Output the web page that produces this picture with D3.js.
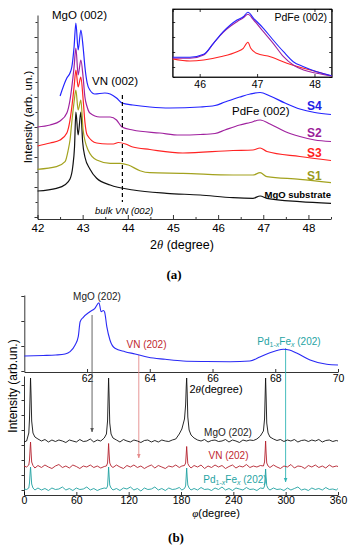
<!DOCTYPE html>
<html lang="en">
<head>
<meta charset="UTF-8">
<title>XRD scans</title>
<style>
    body { margin: 0; background: #fff; }
    svg { display: block; }
    svg text { font-family: Arial, "Liberation Sans", Helvetica, sans-serif; }
    .axis path, .axis line { stroke: #000; stroke-width: 0.8; }
    .axA text { font-size: 11.5px; fill: #000; }
    .axIn text { font-size: 10.5px; fill: #000; }
    .axB text { font-size: 10.5px; fill: #000; }
</style>
</head>
<body>
<script src="https://cdn.jsdelivr.net/npm/d3@7"></script>
<script>
// ---------- panel (a): 2theta scans, [2theta, intensity] ----------
var s4 = [[42.50,121],[42.65,139],[42.72,144],[42.76,150],[42.81,170],[42.85,194],[42.90,167],[42.96,187],[43.01,170],[43.05,150],[43.10,134],[43.16,127],[43.27,123],[43.49,124],[43.61,123],[43.75,119],[43.87,114],[44.11,112],[44.49,110],[44.93,109],[45.60,110],[45.93,111.5],[46.15,115],[46.48,120],[46.71,123],[46.93,124.5],[47.15,121],[47.48,114],[47.81,108],[48.14,104.5],[48.5,102.5]];
var s2 = [[42.0,90],[42.28,92],[42.50,96],[42.65,104],[42.72,117],[42.76,130],[42.81,150],[42.85,169],[42.90,142],[42.96,157],[43.01,140],[43.05,120],[43.10,110],[43.16,104],[43.38,100],[43.61,100],[43.75,97],[43.87,90],[44.11,87],[44.71,84],[45.15,82],[45.6,82.5],[45.93,83.5],[46.15,87],[46.48,92],[46.71,94.5],[46.93,97],[47.15,93],[47.48,85.5],[47.81,80.5],[48.14,77],[48.5,75.5]];
var s3 = [[42.0,71],[42.28,74],[42.5,77],[42.65,84],[42.72,97],[42.76,110],[42.81,130],[42.85,147],[42.90,130],[42.96,140],[43.01,118],[43.05,95],[43.10,82],[43.31,74],[43.55,73],[43.68,73],[43.79,74.5],[43.95,73],[44.11,70],[44.49,67.5],[45.22,64],[46.33,66.5],[46.77,67],[46.93,69],[47.08,65.5],[47.81,60.5],[48.5,56.5]];
var s1 = [[42.0,47.7],[42.42,50.3],[42.61,55.3],[42.68,67],[42.72,77],[42.76,95],[42.81,115],[42.85,127],[42.90,107],[42.96,117],[43.01,87],[43.12,67],[43.31,57],[43.61,53.7],[43.83,53.7],[44.01,52],[44.27,46.3],[44.49,44.3],[45.22,43.7],[46.33,42],[46.77,42],[46.93,44.3],[47.08,40.3],[47.81,37.7],[48.5,34.3]];
var substrate = [[42.0,26],[42.42,28.7],[42.6,32],[42.72,38],[42.78,50],[42.82,70],[42.85,105],[42.90,82],[42.96,105],[43.0,75],[43.05,60],[43.16,48],[43.31,38.7],[43.61,32],[44.12,27],[44.86,23.7],[45.6,22],[46.33,19.3],[46.77,18.7],[46.93,21],[47.08,18.7],[47.81,15.3],[48.5,13.7]];
var ticksA = [42, 43, 44, 45, 46, 47, 48];
var bulkVN = 43.88;

// inset, PdFe (002) region
var inS4 = [[45.53,19.7],[45.83,19.7],[46.07,22.7],[46.24,33.7],[46.41,45.3],[46.65,57],[46.76,60.3],[46.84,64.7],[46.94,58.7],[47.11,48.7],[47.28,37],[47.46,25.3],[47.63,15.3],[47.81,10.3],[48.04,5.3],[48.3,1.3]];
var inS2 = [[45.53,18.7],[45.83,18.7],[46.07,22],[46.24,33.7],[46.41,44.7],[46.65,55.3],[46.76,59.3],[46.84,62.7],[46.94,57],[47.11,45.3],[47.28,33.7],[47.46,20.3],[47.63,12],[47.81,7],[48.04,3.7],[48.3,1]];
var inS3 = [[45.53,18],[45.83,16],[46.07,17],[46.36,20.3],[46.65,25.3],[46.76,28.7],[46.84,34.7],[46.89,28.7],[46.99,23.7],[47.23,20.3],[47.52,13.7],[47.81,8.7],[48.04,5.3],[48.3,1]];
var ticksInset = [46, 47, 48];

// ---------- panel (b): upper 2theta scan ----------
var scan2t = [[60.0,16],[60.6,16.5],[61.0,17],[61.3,18],[61.46,20.3],[61.62,27],[61.72,35.3],[61.78,50.3],[61.88,54.7],[62.09,60.3],[62.25,63.7],[62.38,69.3],[62.45,60.3],[62.52,61.5],[62.56,60],[62.63,45.3],[62.73,32],[62.89,23.7],[63.21,20.3],[63.53,18],[63.95,14.7],[64.49,12.7],[65.06,11],[65.8,10.5],[66.56,10.3],[67.19,11],[67.51,15],[67.83,19.3],[68.05,21.5],[68.26,22.7],[68.45,22],[68.68,19],[69.11,12],[69.64,7.7],[70,7]];
var ticks2t = [62, 64, 66, 68, 70];
var refPeaks = [62.16, 63.65, 68.33];   // MgO, VN, PdFe (202)

// ---------- panel (b): phi scans ----------
var phi = [0,3,5.5,6.3,7,7.5,8.1,8.8,10.3,12.5,
    16,20,24,28,32,36,40,44,48,52,56,60,64,68,72,76,80,84,88,92,
    94.5,95.8,96.5,97,97.6,98.3,99.8,
    102,106,110,114,118,122,126,130,134,138,142,146,150,154,158,162,166,170,174,178,181,
    184,185.3,186,186.5,187.1,187.8,189.3,
    191.5,195,199,203,207,211,215,219,223,227,231,235,239,243,247,251,255,259,263,267,271,
    274.5,275.8,276.5,277,277.6,278.3,279.8,
    282,286,290,294,298,302,306,310,314,318,322,326,330,334,338,342,346,350,354,358,360];
var phiMgO = [53,54,62,76,100,117,100,74,62,58,
    56,54,55.5,53,55,53.5,55,54,52.5,55,54,53,55.5,53.5,54,56,53,55,54,57,
    61,74,100,117,98,72,61,
    57,55,53,55.5,54,53,55,54,52.5,54.5,55,53,54.5,53,55,54,53.5,55,56,61,66,
    76,90,108,117,102,78,65,
    60,57,55,54,55.5,53,54.5,55,53.5,54,55.5,53,55,54,52.5,55,54,55,54.5,56,59,
    64,76,100,117,98,72,62,
    58,56,54.5,55.5,53.5,55,54,55.5,53,54.5,55,53.5,55,54,55.5,53,54.5,55,53.5,54.5,54];
var phiVN = [29,28,30,35,46,53,43,33,29.5,27,
    29.5,27.5,30,28,26.5,29,30.5,27.5,29,27,30,28.5,26.5,29,28,30,27.5,29,27,28.5,
    29,32,42,51.5,41,32,29,
    27.5,30,28,26.5,29.5,28,30,27.5,29,26.5,28.5,30,27,29.5,28,26.5,29,28,30,27.5,29,
    29.5,32,41,48.5,40,31.5,29,
    27,29.5,28,30,26.5,29,27.5,30,28,29.5,26.5,28.5,30,27,29,28,30.5,27.5,29,28,29.5,
    29,33,44,54,42,32,29,
    27.5,30,28,26.5,29,28,30.5,27,29,28.5,26.5,29.5,28,30,27.5,29,27,30,28,29,28.5];
var phiPdFe = [6,5.5,7,12,22,28,20,11,7,5,
    7,5,6.5,4.5,7,5.5,6,8,5,6.5,4.5,7,5.5,6,8,5,6.5,4.5,6,7,
    6.5,9,19,28,19,10,7,
    5,6.5,4.5,7,6,8,5,6.5,4,7,5.5,6,8,5,6.5,4.5,7,5.5,6,7.5,5,
    6.5,9,19,27,18,10,7,
    5,6.5,5,7.5,5.5,6,4.5,7,5.5,8,5,6.5,4.5,7,6,5,7.5,5.5,6,4.5,7,
    6.5,9,18,26,17,9.5,6.5,
    5,7,5.5,6,4.5,7,5,6.5,8,5,6,4.5,7,5.5,6.5,5,7.5,5.5,6,5,6.5];
var ticksPhi = [0, 60, 120, 180, 240, 300, 360];

var svg = d3.select("body").append("svg")
    .attr("width", 351)
    .attr("height", 550);

function addText(x, y, size, color, anchor) {
    return svg.append("text").attr("x", x).attr("y", y)
        .attr("text-anchor", anchor || "start")
        .style("font-size", size + "px").attr("fill", color || "#000");
}
var serif = "'Liberation Serif', 'Times New Roman', serif";

// ================= panel (a) =================
var xa = d3.scaleLinear().domain([42, 48.5]).range([37.5, 331]);
var ya = d3.scaleLinear().domain([-2, 202]).range([219, 15]);
var lineA = d3.line().x(function(d) { return xa(d[0]); }).y(function(d) { return ya(d[1]); })
    .curve(d3.curveMonotoneX);

svg.append("g").attr("class", "axis axA")
    .attr("transform", "translate(0,219)")
    .call(d3.axisBottom(xa).tickValues(ticksA).tickFormat(d3.format("d"))
        .tickSizeInner(-4).tickSizeOuter(0).tickPadding(5));
svg.append("g").attr("class", "axis")
    .attr("transform", "translate(0,219)")
    .call(d3.axisBottom(xa).tickValues(ticksA.map(function(t) { return t + 0.5; }))
        .tickSize(-2).tickFormat(""))
    .select(".domain").remove();
svg.append("g").attr("class", "axis")
    .attr("transform", "translate(37.5,0)")
    .call(d3.axisLeft(ya).tickValues([0, 30, 60, 90, 120, 150, 180]).tickSizeInner(3).tickSizeOuter(0).tickFormat(""));
svg.append("g").attr("class", "axis")
    .attr("transform", "translate(37.5,0)")
    .call(d3.axisLeft(ya).tickValues([15, 45, 75, 105, 135, 165, 195]).tickSize(2).tickFormat(""))
    .select(".domain").remove();

var seriesA = [
    {data: substrate, color: "#111111"},
    {data: s1, color: "#a3a21e"},
    {data: s3, color: "#ff2323"},
    {data: s2, color: "#a0229f"},
    {data: s4, color: "#2323ff"}
];
seriesA.forEach(function(s) {
    svg.append("path").datum(s.data)
        .attr("d", lineA)
        .attr("fill", "none")
        .attr("stroke", s.color)
        .attr("stroke-width", 1.2);
});

// bulk VN line
svg.append("line")
    .attr("x1", xa(bulkVN)).attr("x2", xa(bulkVN))
    .attr("y1", ya(122)).attr("y2", ya(15))
    .attr("stroke", "#000").attr("stroke-width", 1.2)
    .attr("stroke-dasharray", "4,3");

addText(52, 19, 11.5).text("MgO (002)");
addText(92, 85, 11.5).text("VN (002)");
addText(232, 115, 11.5).text("PdFe (002)");
addText(95, 214, 9.5).style("font-style", "italic").text("bulk VN (002)");
addText(307, 110, 12, "#2020e6").style("font-weight", "bold").text("S4");
addText(307, 137, 12, "#9a1c9a").style("font-weight", "bold").text("S2");
addText(307, 157, 12, "#ff2020").style("font-weight", "bold").text("S3");
addText(307, 180, 12, "#9a9a1c").style("font-weight", "bold").text("S1");
addText(331, 198, 9.5, "#000", "end").style("font-weight", "bold").text("MgO substrate");

var tA = addText(182, 249, 12.5, "#000", "middle");
tA.append("tspan").text("2");
tA.append("tspan").style("font-style", "italic").style("font-family", serif).text("θ");
tA.append("tspan").text(" (degree)");

svg.append("text")
    .attr("transform", "translate(32,117) rotate(-90)")
    .attr("text-anchor", "middle")
    .style("font-size", "11.5px")
    .text("Intensity (arb. un.)");

// inset
var xi = d3.scaleLinear().domain([45.53, 48.3]).range([172.7, 331.7]);
var yi = d3.scaleLinear().domain([0, 68]).range([77, 9]);
var lineI = d3.line().x(function(d) { return xi(d[0]); }).y(function(d) { return yi(d[1]); })
    .curve(d3.curveMonotoneX);

svg.append("rect").attr("x", 172.7).attr("y", 9).attr("width", 159).attr("height", 68)
    .attr("fill", "#fff").attr("stroke", "#000").attr("stroke-width", 0.8);
svg.append("g").attr("class", "axis axIn")
    .attr("transform", "translate(0,77)")
    .call(d3.axisBottom(xi).tickValues(ticksInset).tickFormat(d3.format("d"))
        .tickSizeInner(-3).tickSizeOuter(0).tickPadding(4));
svg.append("g").attr("class", "axis")
    .attr("transform", "translate(0,9)")
    .call(d3.axisBottom(xi).tickValues(ticksInset).tickSize(3).tickFormat(""));
svg.append("g").attr("class", "axis")
    .attr("transform", "translate(172.7,0)")
    .call(d3.axisRight(yi).tickValues([10, 25, 40, 55]).tickSize(2.5).tickFormat(""));
svg.append("g").attr("class", "axis")
    .attr("transform", "translate(331.7,0)")
    .call(d3.axisLeft(yi).tickValues([10, 25, 40, 55]).tickSize(2.5).tickFormat(""));

[{data: inS3, color: "#ff2323"}, {data: inS2, color: "#a0229f"}, {data: inS4, color: "#2323ff"}]
    .forEach(function(s) {
        svg.append("path").datum(s.data)
            .attr("d", lineI)
            .attr("fill", "none")
            .attr("stroke", s.color)
            .attr("stroke-width", 1.1);
    });
addText(327, 21, 10.5, "#000", "end").text("PdFe (002)");

addText(174, 279, 13, "#000", "middle")
    .style("font-family", serif).style("font-weight", "bold").text("(a)");

// ================= panel (b) upper =================
var xb = d3.scaleLinear().domain([60, 70]).range([24.3, 338]);
var yb = d3.scaleLinear().domain([0, 77]).range([372, 295]);
var lineB = d3.line().x(function(d) { return xb(d[0]); }).y(function(d) { return yb(d[1]); })
    .curve(d3.curveMonotoneX);

svg.append("g").attr("class", "axis axB")
    .attr("transform", "translate(0,372)")
    .call(d3.axisBottom(xb).tickValues(ticks2t).tickSizeInner(-3).tickSizeOuter(0).tickPadding(2.5));
svg.append("g").attr("class", "axis")
    .attr("transform", "translate(24.3,0)")
    .call(d3.axisLeft(yb).tickValues([1, 26, 51, 76]).tickSizeInner(3).tickSizeOuter(0).tickFormat(""));

var peakColors = ["#555555", "#e58a8a", "#30b4b4"];
var arrowEnds = [[315, 432], [355, 458], [348, 482]];
svg.append("defs").selectAll("marker")
    .data(peakColors).enter().append("marker")
    .attr("id", function(d, i) { return "arr" + i; })
    .attr("viewBox", "0 0 10 10").attr("refX", 9).attr("refY", 5)
    .attr("markerWidth", 5).attr("markerHeight", 5).attr("orient", "auto")
    .append("path").attr("d", "M0,1 L10,5 L0,9 z")
    .attr("fill", function(d) { return d; });
svg.selectAll(".refline").data(refPeaks).enter().append("line")
    .attr("class", "refline")
    .attr("x1", function(d) { return xb(d); }).attr("x2", function(d) { return xb(d); })
    .attr("y1", function(d, i) { return arrowEnds[i][0]; })
    .attr("y2", function(d, i) { return arrowEnds[i][1]; })
    .attr("stroke", function(d, i) { return peakColors[i]; })
    .attr("stroke-width", 0.9)
    .attr("marker-end", function(d, i) { return "url(#arr" + i + ")"; });

svg.append("path").datum(scan2t)
    .attr("d", lineB)
    .attr("fill", "none")
    .attr("stroke", "#2a2af5")
    .attr("stroke-width", 1.1);

addText(97, 300, 10, "#222", "middle").text("MgO (202)");
addText(146.5, 348, 10, "#c0282f", "middle").text("VN (202)");

function pdfeLabel(x, y, size) {
    var t = addText(x, y, size, "#1fa3a3", "middle");
    t.append("tspan").text("Pd");
    t.append("tspan").attr("dy", 2).style("font-size", (size - 3) + "px").text("1-");
    t.append("tspan").style("font-size", (size - 3) + "px").style("font-style", "italic").text("x");
    t.append("tspan").attr("dy", -2).text("Fe");
    t.append("tspan").attr("dy", 2).style("font-size", (size - 3) + "px").style("font-style", "italic").text("x");
    t.append("tspan").attr("dy", -2).text(" (202)");
    return t;
}
pdfeLabel(289, 345, 10);

var tB = addText(216, 393, 11, "#000", "middle");
tB.append("tspan").text("2");
tB.append("tspan").style("font-style", "italic").style("font-family", serif).text("θ");
tB.append("tspan").text("(degree)");

// ================= panel (b) lower: phi scans =================
var xl = d3.scaleLinear().domain([0, 360]).range([24, 338]);
var yl = d3.scaleLinear().domain([0, 119]).range([495, 376]);
var lineL = d3.line().x(function(d) { return xl(d[0]); }).y(function(d) { return yl(d[1]); });

svg.append("g").attr("class", "axis axB")
    .attr("transform", "translate(0,495)")
    .call(d3.axisBottom(xl).tickValues(ticksPhi).tickSizeInner(-3).tickSizeOuter(0).tickPadding(1.5));
svg.append("g").attr("class", "axis")
    .attr("transform", "translate(24,0)")
    .call(d3.axisLeft(yl).tickValues([5, 20, 35, 50, 65, 80, 95, 110]).tickSizeInner(2.5).tickSizeOuter(0).tickFormat(""));

var seriesPhi = [
    {vals: phiPdFe, color: "#1fa0a0"},
    {vals: phiVN, color: "#b3202c"},
    {vals: phiMgO, color: "#111111"}
];
seriesPhi.forEach(function(s) {
    svg.append("path")
        .datum(phi.map(function(p, i) { return [p, s.vals[i]]; }))
        .attr("d", lineL)
        .attr("fill", "none")
        .attr("stroke", s.color)
        .attr("stroke-width", 0.9);
});

addText(228, 436, 10, "#222", "middle").text("MgO (202)");
addText(228.5, 459, 10, "#c0282f", "middle").text("VN (202)");
pdfeLabel(235, 483, 10);

var tP = addText(216, 517, 11, "#000", "middle");
tP.append("tspan").style("font-style", "italic").style("font-family", serif).text("φ");
tP.append("tspan").text("(degree)");

svg.append("text")
    .attr("transform", "translate(17,386) rotate(-90)")
    .attr("text-anchor", "middle")
    .style("font-size", "12px")
    .text("Intensity (arb.un.)");

addText(176, 542, 13, "#000", "middle")
    .style("font-family", serif).style("font-weight", "bold").text("(b)");
</script>
</body>
</html>
